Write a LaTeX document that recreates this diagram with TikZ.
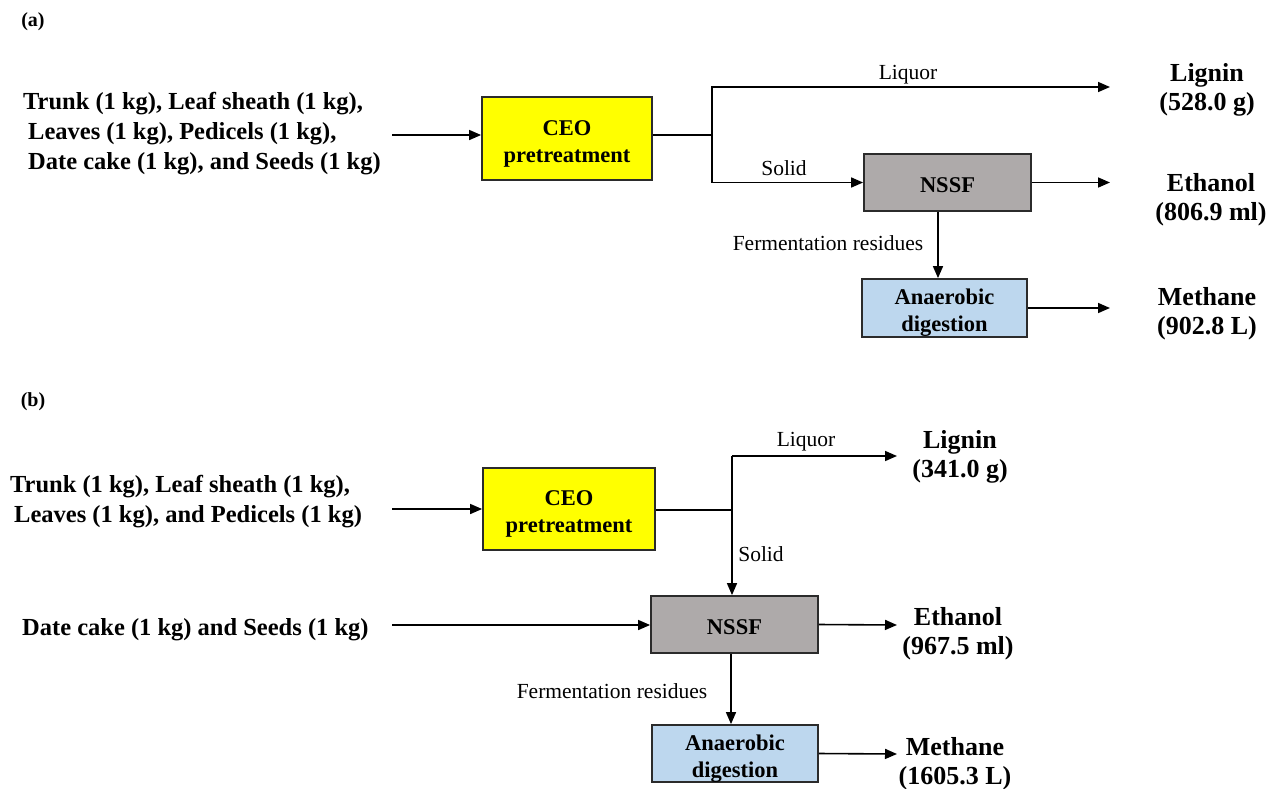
\documentclass[tikz,border=0pt]{standalone}
\usepackage{fontspec}
\setmainfont{Liberation Serif}
\usetikzlibrary{arrows.meta}
\definecolor{ceoyellow}{HTML}{FFFF00}
\definecolor{nssfgray}{HTML}{AEAAAA}
\definecolor{adblue}{HTML}{BDD7EE}
\definecolor{boxline}{HTML}{2B2B2B}
\newcommand{\boxtext}[1]{\raisebox{-5pt}[\height][\depth]{\begin{tabular}{@{}c@{}}#1\end{tabular}}}
\begin{document}
\begin{tikzpicture}[x=1pt,y=-1pt,
  box/.style={draw=boxline, line width=1.8pt, inner sep=0pt, align=center,
    font=\fontsize{22.5}{27}\selectfont\bfseries},
  arr/.style={-{Triangle[length=12pt,width=10pt]}, line width=1.6pt},
  ln/.style={line width=1.6pt},
  intext/.style={font=\fontsize{24.5}{30}\selectfont\bfseries, align=left, inner sep=0pt, anchor=west},
  outtext/.style={font=\fontsize{26}{29}\selectfont\bfseries, align=center, inner sep=0pt},
  lbl/.style={font=\fontsize{21.5}{24}\selectfont, inner sep=0pt},
  panel/.style={font=\fontsize{20}{24}\selectfont\bfseries, inner sep=0pt}]
\useasboundingbox (0,0) rectangle (1277,788);
\fill[white] (0,0) rectangle (1277,788);

% ---------------- (a) ----------------
\node[panel] (pa) at (33,22) {(a)};
\node[intext] (inputa) at (23,134) {Trunk (1 kg), Leaf sheath (1 kg),\\\hspace{5pt}Leaves (1 kg), Pedicels (1 kg),\\\hspace{5pt}Date cake (1 kg), and Seeds (1 kg)};
\node[box, fill=ceoyellow, minimum width=170pt, minimum height=83pt] (ceoa) at (567,138.5) {\boxtext{CEO\\pretreatment}};
\node[box, fill=nssfgray, minimum width=167pt, minimum height=57pt] (nssfa) at (947.5,182.5) {\boxtext{NSSF}};
\node[box, fill=adblue, minimum width=165pt, minimum height=58pt] (ada) at (944.5,308) {\boxtext{Anaerobic\\digestion}};
\node[outtext] (lignina) at (1207,90) {Lignin\\(528.0 g)};
\node[outtext] (ethanola) at (1211,200) {Ethanol\\(806.9 ml)};
\node[outtext] (methanea) at (1207,314) {Methane\\(902.8 L)};
\node[lbl] (liqa) at (908,75) {Liquor};
\node[lbl] (solida) at (784,168) {Solid};
\node[lbl] (ferma) at (828,243) {Fermentation residues};

\coordinate (ina) at (392,135);
\coordinate (spa) at (712,135);
\coordinate (liga) at (1110,87);
\coordinate (etha) at (1110,182.5);
\coordinate (meta) at (1110,308);
\draw[arr] (ina) -- (ina -| ceoa.west);
\draw[ln] (ceoa.east |- spa) -- (spa);
\draw[arr] (spa) |- (liga);
\draw[arr] (spa) |- (nssfa.west);
\draw[arr] (nssfa.east) -- (etha);
\draw[arr] ([xshift=-9.5pt]nssfa.south) -- ([xshift=-6.5pt]ada.north);
\draw[arr] (ada.east) -- (meta);

% ---------------- (b) ----------------
\node[panel] (pb) at (33,402) {(b)};
\node[intext] (inputb) at (10,502) {Trunk (1 kg), Leaf sheath (1 kg),\\\hspace{4pt}Leaves (1 kg), and Pedicels (1 kg)};
\node[intext] (inputb2) at (22,630) {Date cake (1 kg) and Seeds (1 kg)};
\node[box, fill=ceoyellow, minimum width=172pt, minimum height=82pt] (ceob) at (569,509) {\boxtext{CEO\\pretreatment}};
\node[box, fill=nssfgray, minimum width=167pt, minimum height=57pt] (nssfb) at (734.5,624.5) {\boxtext{NSSF}};
\node[box, fill=adblue, minimum width=166pt, minimum height=57pt] (adb) at (735,753.5) {\boxtext{Anaerobic\\digestion}};
\node[outtext] (ligninb) at (960,457) {Lignin\\(341.0 g)};
\node[outtext] (ethanolb) at (958,634) {Ethanol\\(967.5 ml)};
\node[outtext] (methaneb) at (955,764) {Methane\\(1605.3 L)};
\node[lbl] (liqb) at (806,442) {Liquor};
\node[lbl] (solidb) at (761,554) {Solid};
\node[lbl] (fermb) at (612,691) {Fermentation residues};

\coordinate (inb) at (392,509);
\coordinate (spb) at (732,510);
\coordinate (topb) at (732,456);
\coordinate (ligb) at (897,456);
\coordinate (dcb) at (392,625);
\coordinate (ethb) at (897,625);
\coordinate (metb) at (897,754);
\draw[arr] (inb) -- (inb -| ceob.west);
\draw[ln] (ceob.east |- spb) -- (spb);
\draw[arr] (topb) -- (ligb);
\draw[arr] (topb) -- (topb |- nssfb.north);
\draw[arr] (dcb) -- (dcb -| nssfb.west);
\draw[arr] (nssfb.east) -- (ethb);
\draw[arr] ([xshift=-3.5pt]nssfb.south) -- ([xshift=-4pt]adb.north);
\draw[arr] (adb.east) -- (metb);
\end{tikzpicture}
\end{document}
